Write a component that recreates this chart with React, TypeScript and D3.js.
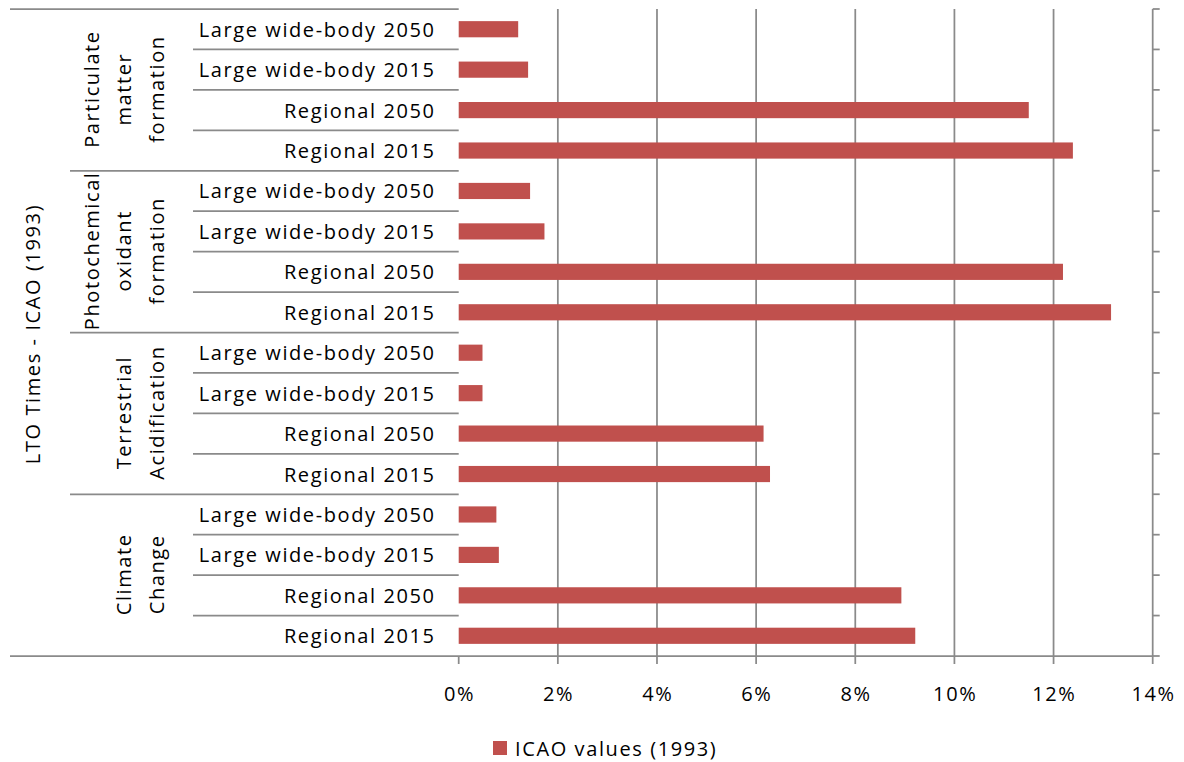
import React, { useMemo } from 'react';
import * as d3 from 'd3';

// impact categories, listed top-down as drawn
const groups = [
  ['Particulate', 'matter', 'formation'],
  ['Photochemical', 'oxidant', 'formation'],
  ['Terrestrial', 'Acidification'],
  ['Climate', 'Change'],
];

const aircraft = ['Large wide-body 2050', 'Large wide-body 2015', 'Regional 2050', 'Regional 2015'];

// ICAO values (1993), % per group, same order as aircraft
const pmValues = [1.2, 1.4, 11.5, 12.39];
const photoValues = [1.44, 1.73, 12.19, 13.16];
const terrValues = [0.48, 0.48, 6.15, 6.28];
const climateValues = [0.76, 0.81, 8.93, 9.21];

const xTicks = [0, 2, 4, 6, 8, 10, 12, 14];
const axisTitle = 'LTO Times - ICAO (1993)';
const legendLabel = 'ICAO values (1993)';

const W = 1184;
const H = 762;
const font = '"Open Sans", sans-serif';
const ls = 1.6; // the source text is set quite loose
const grey = '#8a8a8a';
const barColor = '#C0504D';

export default function App() {
  const rows = useMemo(() => {
    const all = [pmValues, photoValues, terrValues, climateValues];
    return all.flatMap((vals, g) =>
      vals.map((v, i) => ({ id: `${g}-${i}`, group: g, label: aircraft[i], value: v }))
    );
  }, []);

  const x = d3.scaleLinear().domain([0, 14]).range([458.7, 1152.7]);
  const y = d3.scaleBand<string>().domain(rows.map(r => r.id)).range([9, 656]);
  const bw = y.bandwidth();
  const barH = bw * 0.4;
  const top = y.range()[0];
  const bottom = y.range()[1];

  const groupCenters = groups.map((_, g) => {
    const ids = rows.filter(r => r.group === g).map(r => r.id);
    return (y(ids[0])! + y(ids[ids.length - 1])! + bw) / 2;
  });

  // baselines (rotated text) for each line of the group labels
  const lineX = (n: number, k: number) => (n === 3 ? [99, 131, 164][k] : [131, 163.5][k]);

  return (
    <svg
      width={W}
      height={H}
      style={{ position: 'absolute', left: 0, top: 0, background: '#fff' }}
      fontFamily={font}
      letterSpacing={ls}
    >
      {/* vertical gridlines */}
      {xTicks.slice(1, -1).map(t => (
        <line key={`g${t}`} x1={x(t)} x2={x(t)} y1={top} y2={bottom} stroke={grey} strokeWidth={1.75} />
      ))}

      {/* right category axis with outward ticks */}
      <line x1={x(14)} x2={x(14)} y1={top} y2={bottom} stroke={grey} strokeWidth={1.75} />
      {d3.range(rows.length + 1).map(i => (
        <line
          key={`rt${i}`}
          x1={x(14)}
          x2={x(14) + 7}
          y1={top + i * bw}
          y2={top + i * bw}
          stroke={grey}
          strokeWidth={1.75}
        />
      ))}

      {/* separators in the label area */}
      {d3.range(rows.length).map(i => {
        const yy = top + i * bw;
        const x0 = i === 0 ? 10 : i % 4 === 0 ? 70 : 193;
        return <line key={`s${i}`} x1={x0} x2={x(0)} y1={yy} y2={yy} stroke={grey} strokeWidth={1.75} />;
      })}

      {/* bottom value axis */}
      <line x1={10} x2={x(14)} y1={bottom} y2={bottom} stroke={grey} strokeWidth={1.75} />
      {xTicks.map(t => (
        <g key={`t${t}`}>
          <line x1={x(t)} x2={x(t)} y1={bottom} y2={bottom + 8} stroke={grey} strokeWidth={1.75} />
          <text x={x(t) + ls / 2} y={701} textAnchor="middle" fontSize={20} fill="#000">
            {`${t}%`}
          </text>
        </g>
      ))}

      {/* bars */}
      {rows.map(r => (
        <rect
          key={r.id}
          x={x(0)}
          y={y(r.id)! + (bw - barH) / 2}
          width={x(r.value) - x(0)}
          height={barH}
          fill={barColor}
        />
      ))}

      {/* row labels */}
      {rows.map(r => (
        <text key={`l${r.id}`} x={434 + ls} y={y(r.id)! + bw / 2 + 7.5} textAnchor="end" fontSize={20} fill="#000">
          {r.label}
        </text>
      ))}

      {/* group labels */}
      {groups.map((lines, g) =>
        lines.map((ln, k) => (
          <text
            key={`gl${g}-${k}`}
            transform={`translate(${lineX(lines.length, k)},${groupCenters[g] - ls / 2}) rotate(-90)`}
            textAnchor="middle"
            fontSize={20}
            fill="#000"
          >
            {ln}
          </text>
        ))
      )}

      {/* outer axis title */}
      <text transform={`translate(40,334) rotate(-90)`} textAnchor="middle" fontSize={20} fill="#000">
        {axisTitle}
      </text>

      {/* legend */}
      <rect x={493} y={741} width={14} height={14} fill={barColor} />
      <text x={515} y={756} fontSize={20} fill="#000">
        {legendLabel}
      </text>
    </svg>
  );
}
